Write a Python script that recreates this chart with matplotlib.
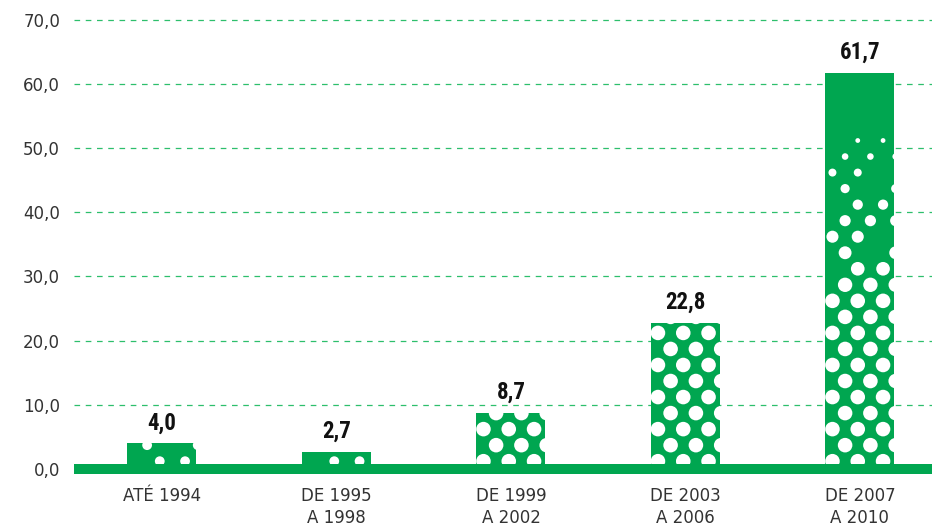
import numpy as np
import matplotlib
matplotlib.use("Agg")
import matplotlib.pyplot as plt
from matplotlib import font_manager
from matplotlib.ticker import FuncFormatter

categories = ["ATÉ 1994", "DE 1995\nA 1998", "DE 1999\nA 2002", "DE 2003\nA 2006", "DE 2007\nA 2010"]
values = [4.0, 2.7, 8.7, 22.8, 61.7]
y_ticks = [0, 10, 20, 30, 40, 50, 60, 70]

GREEN = "#00a650"
GRID = "#2dbf6c"
TEXT = "#333333"


def _narrow_font():
    fonts = font_manager.fontManager.ttflist
    names = {f.name for f in fonts}
    for n in ["Liberation Sans Narrow", "Roboto Condensed", "DejaVu Sans Condensed",
              "Open Sans Condensed", "Noto Sans Display"]:
        if n in names:
            return n, "normal"
    for f in fonts:
        if f.stretch in ("condensed", "semi-condensed", "extra-condensed"):
            return f.name, f.stretch
    return "Roboto", "normal"


def _dot_texture(ax, bar, top_limit=54.0):
    # decorative white polka dots, clipped to the bar, fading with height
    x0 = bar.get_x()
    w = bar.get_width()
    h = bar.get_height()
    col_step = 0.145
    row_step = 2.5
    xs, ys, ss = [], [], []
    row = 0
    y = 1.2
    while y < min(h + row_step, top_limit):
        shift = 0.0 if row % 2 == 0 else col_step / 2
        x = x0 + 0.04 + shift
        k = 0
        while x < x0 + w + col_step:
            fade = 1.0 if y < 28 else max(0.0, 1 - (y - 28) / 26)
            # short bars are mostly worn, tall ones lose dots near the top
            if h < 6:
                fade *= 0.45
            if fade < 1 and (row * 3 + k) % 4 == 0:
                fade = 0
            if fade > 0.05:
                xs.append(x)
                ys.append(y)
                ss.append(110 * fade)
            x += col_step
            k += 1
        y += row_step
        row += 1
    sc = ax.scatter(xs, ys, s=ss, color="white", linewidths=0, zorder=3)
    sc.set_clip_path(bar)


label_font, label_stretch = _narrow_font()

fig = plt.figure(figsize=(9.32, 5.31), dpi=100)
ax = fig.add_axes([0.0794, 0.1073, 0.9206, 0.8733])

x = np.arange(len(categories))
bars = ax.bar(x, values, width=0.395, color=GREEN, zorder=2)
for b in bars:
    _dot_texture(ax, b)

ax.axhspan(-0.8, 0.78, color=GREEN, zorder=4, lw=0)

for yv in y_ticks[1:]:
    ax.axhline(yv, color=GRID, lw=0.9, ls=(0, (4.5, 4.5)), zorder=1)

for xi, v in zip(x, values):
    ax.text(xi, v + 1.4, f"{v:.1f}".replace(".", ","), ha="center", va="bottom",
            fontsize=16.5, fontweight="bold", fontstretch=label_stretch, color="#111111",
            family=[label_font, "DejaVu Sans"], zorder=5)

ax.set_xlim(-0.504, 4.413)
ax.set_ylim(-0.8, 71.5)
ax.set_xticks(x)
ax.set_xticklabels(categories, fontsize=12, color=TEXT, linespacing=1.3)
ax.set_yticks(y_ticks)
ax.yaxis.set_major_formatter(FuncFormatter(lambda v, p: f"{v:.1f}".replace(".", ",")))
ax.tick_params(axis="both", length=0, labelsize=12, labelcolor=TEXT)
ax.tick_params(axis="x", pad=9)
ax.tick_params(axis="y", pad=10)
for spine in ax.spines.values():
    spine.set_visible(False)

fig.savefig("out.png", dpi=100)
